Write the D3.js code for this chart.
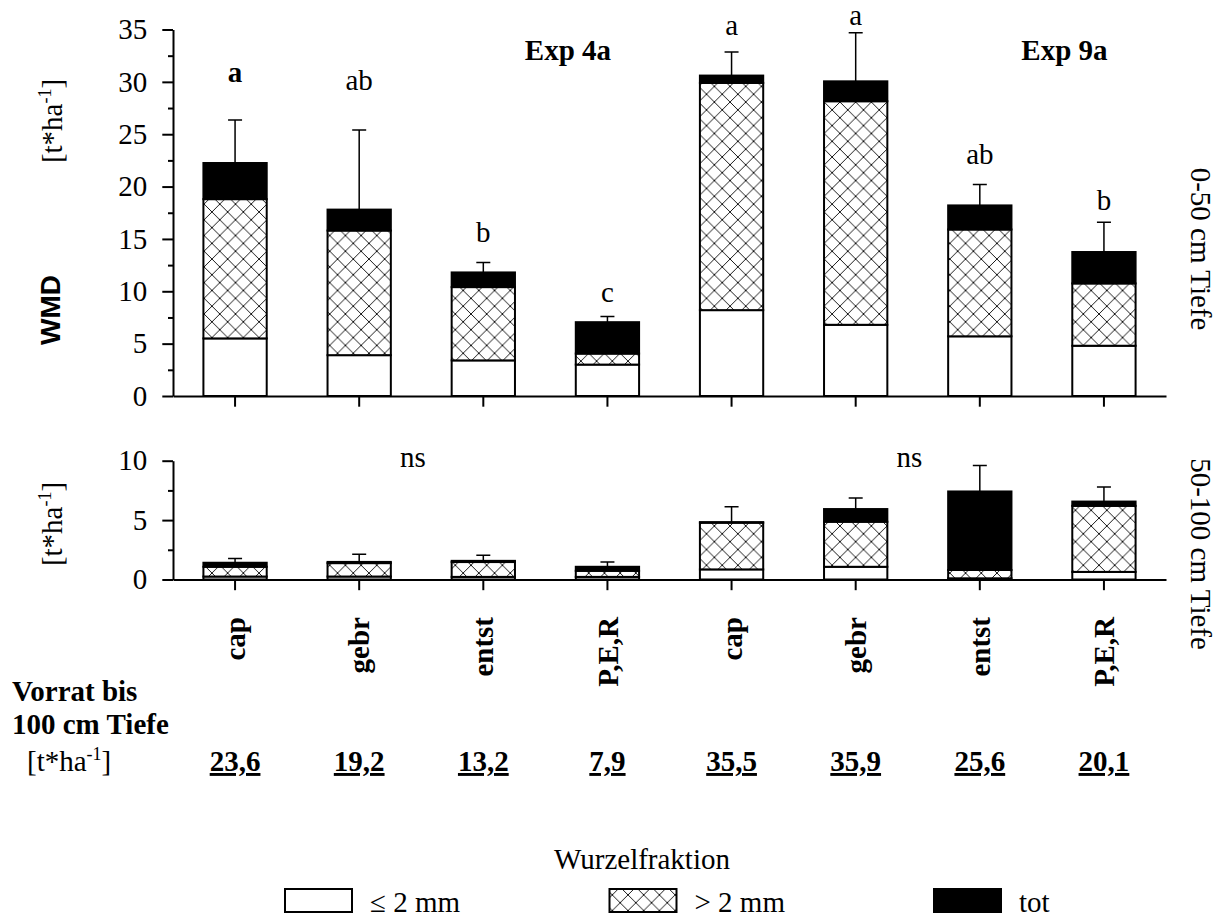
<!DOCTYPE html>
<html><head><meta charset="utf-8">
<script src="https://cdn.jsdelivr.net/npm/d3@7"></script>
<style>
html,body{margin:0;padding:0;background:#fff;}
svg text{font-family:"Liberation Serif","Tinos","Times New Roman","DejaVu Serif",serif;fill:#000;}
svg text.sans{font-family:"Liberation Sans",Arial,sans-serif;}
</style></head>
<body>
<svg id="c" width="1224" height="920"></svg>
<script>
// ---------- data ----------
const categories = ["cap","gebr","entst","P,E,R","cap","gebr","entst","P,E,R"];
const experiments = ["Exp 4a","Exp 9a"];
// 0-50 cm depth
const fineTop   = [5.5, 3.9, 3.4, 3.0, 8.2, 6.8, 5.7, 4.8];
const coarseTop = [13.3, 11.9, 7.0, 1.05, 21.7, 21.35, 10.2, 5.95];
const deadTop   = [3.45, 2.0, 1.4, 3.0, 0.7, 1.9, 2.3, 3.0];
const sdTop     = [4.1, 7.6, 0.95, 0.55, 2.25, 4.65, 2.0, 2.85];
const lettersTop = ["a","ab","b","c","a","a","ab","b"];
const letterBold = [true,false,false,false,false,false,false,false];
const letterLevel = [30.0, 29.2, 14.7, 9.0, 34.5, 35.4, 22.2, 17.8];
// 50-100 cm depth
const fineBot   = [0.25, 0.25, 0.22, 0.22, 0.85, 1.07, 0.1, 0.64];
const coarseBot = [0.82, 1.13, 1.25, 0.51, 3.93, 3.79, 0.7, 5.56];
const deadBot   = [0.34, 0.10, 0.10, 0.34, 0.05, 1.07, 6.61, 0.36];
const sdBot     = [0.36, 0.65, 0.48, 0.41, 1.3, 0.94, 2.19, 1.22];
const lettersBot = ["ns","ns"];
// totals to 100 cm
const totals = ["23,6","19,2","13,2","7,9","35,5","35,9","25,6","20,1"];
const ticksTop = [0,5,10,15,20,25,30,35];
const ticksBot = [0,5,10];
const legendLabels = ["\u2264 2 mm","> 2 mm","tot"];

// ---------- setup ----------
const svg = d3.select("#c");
const FS = 29;
const defs = svg.append("defs");
const pat = defs.append("pattern").attr("id","hatch").attr("patternUnits","userSpaceOnUse")
  .attr("width",15.7).attr("height",15.7);
pat.append("rect").attr("width",15.7).attr("height",15.7).attr("fill","#fff");
pat.append("path").attr("d","M0,0L15.7,15.7M15.7,0L0,15.7M-1,1L1,-1M14.7,16.7L16.7,14.7")
  .attr("stroke","#000").attr("stroke-width",0.9).attr("fill","none");

const idx = d3.range(categories.length);
const x = d3.scaleBand().domain(idx).range([173,1166]).paddingInner(0.49).paddingOuter(0.245);
const yT = d3.scaleLinear().domain([0,35]).range([396,29.5]);
const yB = d3.scaleLinear().domain([0,10]).range([579.5,460.7]);
const fills = ["#fff","url(#hatch)","#000"];
const keys = ["fine","coarse","dead"];

function panel(y, fine, coarse, dead, sd, ticks, minorTicks){
  const rows = idx.map(i=>({i, fine:fine[i], coarse:coarse[i], dead:dead[i]}));
  const series = d3.stack().keys(keys)(rows);
  const g = svg.append("g");
  series.forEach((s,k)=>{
    g.selectAll(null).data(s).join("rect")
      .attr("x",d=>x(d.data.i)).attr("width",x.bandwidth())
      .attr("y",d=>y(d[1])).attr("height",d=>Math.max(0,y(d[0])-y(d[1])))
      .attr("fill",fills[k]).attr("stroke","#000").attr("stroke-width",2);
  });
  const tot = i=>fine[i]+coarse[i]+dead[i];
  g.selectAll(null).data(idx).join("path")
    .attr("d",i=>{const cx=x(i)+x.bandwidth()/2;
      return `M${cx},${y(tot(i))}V${y(tot(i)+sd[i])}M${cx-7},${y(tot(i)+sd[i])}H${cx+7}`;})
    .attr("stroke","#000").attr("stroke-width",1.5).attr("fill","none");
  const ya = svg.append("g").attr("transform","translate(173,0)")
    .call(d3.axisLeft(y).tickValues(ticks).tickSize(10.7).tickSizeOuter(0).tickPadding(15).tickFormat(d3.format("d")));
  const ym = svg.append("g").attr("transform","translate(173,0)")
    .call(d3.axisLeft(y).tickValues(minorTicks).tickSize(5).tickSizeOuter(0).tickFormat(""));
  ym.select(".domain").remove();
  const xa = svg.append("g").attr("transform",`translate(0,${y(0)})`)
    .call(d3.axisBottom(x).tickSize(10.7).tickSizeOuter(0).tickFormat(""));
  [ya,ym,xa].forEach(a=>{
    a.attr("font-family",null).attr("font-size",FS);
    a.selectAll("path,line").attr("stroke","#000").attr("stroke-width",2);
    a.selectAll("text").attr("font-size",FS).attr("fill","#000");
  });
}

panel(yT, fineTop, coarseTop, deadTop, sdTop, ticksTop, [2.5,7.5,12.5,17.5,22.5,27.5,32.5]);
panel(yB, fineBot, coarseBot, deadBot, sdBot, ticksBot, [2.5,7.5]);

// significance letters
svg.selectAll(null).data(idx).join("text")
  .attr("x",i=>x(i)+x.bandwidth()/2).attr("y",i=>yT(letterLevel[i]))
  .attr("text-anchor","middle").attr("font-size",FS)
  .attr("font-weight",i=>letterBold[i]?"bold":"normal").text(i=>lettersTop[i]);
svg.selectAll(null).data(lettersBot).join("text")
  .attr("x",(d,j)=>x(4*j+1)+x.bandwidth()+22).attr("y",467)
  .attr("text-anchor","middle").attr("font-size",FS).text(d=>d);

// experiment labels
svg.selectAll(null).data(experiments).join("text")
  .attr("x",(d,j)=>x(4*j+2)+x.bandwidth()+53).attr("y",60)
  .attr("text-anchor","middle").attr("font-size",FS).attr("font-weight","bold").text(d=>d);

// unit label helper
function unitText(t){
  t.append("tspan").text("[t*ha");
  t.append("tspan").attr("font-size",FS*0.62).attr("dy","-0.62em").text("-1");
  t.append("tspan").attr("dy","0.385em").text("]");
}
function unitLabel(cx,cy){
  const t = svg.append("text").attr("transform",`translate(${cx},${cy}) rotate(-90)`)
    .attr("text-anchor","middle").attr("dy","0.35em").attr("font-size",FS);
  unitText(t);
}
unitLabel(52,121);
unitLabel(52,524);
svg.append("text").attr("class","sans").attr("transform","translate(50,310) rotate(-90)")
  .attr("text-anchor","middle").attr("dy","0.36em")
  .attr("font-weight","bold").attr("font-size",28).text("WMD");

// right labels
svg.append("text").attr("transform","translate(1201,249) rotate(90)")
  .attr("text-anchor","middle").attr("dy","0.35em").attr("font-size",FS).text("0-50 cm Tiefe");
svg.append("text").attr("transform","translate(1201,554) rotate(90)")
  .attr("text-anchor","middle").attr("dy","0.35em").attr("font-size",FS).text("50-100 cm Tiefe");

// category labels
svg.selectAll(null).data(idx).join("text")
  .attr("transform",i=>`translate(${x(i)+x.bandwidth()/2},617) rotate(-90)`)
  .attr("text-anchor","end").attr("dy","0.35em").attr("font-size",FS).attr("font-weight","bold")
  .text(i=>categories[i]);

// totals block
svg.append("text").attr("x",12).attr("y",701).attr("font-size",FS).attr("font-weight","bold").text("Vorrat bis");
svg.append("text").attr("x",12).attr("y",734).attr("font-size",FS).attr("font-weight","bold").text("100 cm Tiefe");
unitText(svg.append("text").attr("x",27).attr("y",771).attr("font-size",FS));
svg.selectAll(null).data(idx).join("text")
  .attr("x",i=>x(i)+x.bandwidth()/2).attr("y",771)
  .attr("text-anchor","middle").attr("font-size",FS).attr("font-weight","bold")
  .attr("text-decoration","underline").text(i=>totals[i]);

// legend
svg.append("text").attr("x",642).attr("y",869).attr("text-anchor","middle").attr("font-size",FS).text("Wurzelfraktion");
const lg = svg.append("g");
legendLabels.forEach((lab,k)=>{
  const lx = 285 + k*324.5;
  lg.append("rect").attr("x",lx).attr("y",889).attr("width",67).attr("height",23)
    .attr("fill",fills[k]).attr("stroke","#000").attr("stroke-width",2);
  lg.append("text").attr("x",lx+85).attr("y",912).attr("font-size",FS).text(lab);
});
</script>
</body></html>
